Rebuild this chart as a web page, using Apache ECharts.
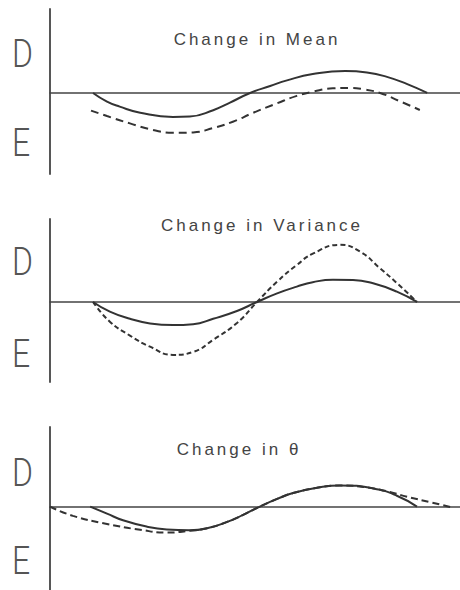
<!DOCTYPE html>
<html>
<head>
<meta charset="utf-8">
<script src="https://cdn.jsdelivr.net/npm/echarts@6/dist/echarts.min.js"></script>
<style>
  html, body { margin: 0; padding: 0; background: #fff; }
  #chart { width: 460px; height: 590px; letter-spacing: 3px; }
</style>
</head>
<body>
<div id="chart"></div>
<script>
// Panel headings and the two side letters
const panelTitles = ['Change in Mean', 'Change in Variance', 'Change in \u03b8'];
const sideLetters = ['D', 'E'];

// Curves as [position, signed effect] pairs; solid = reference, dashed = altered
const meanBase  = [[1.05, 0], [1.39, -0.41], [1.7, -0.65], [2.2, -0.94], [3.0, -1.14], [3.41, -1.12], [3.98, -0.82], [4.39, -0.46], [4.88, 0], [5.37, 0.33], [5.78, 0.6], [6.41, 0.9], [7.2, 1.05], [7.73, 0.98], [8.2, 0.78], [8.7, 0.43], [9.2, 0]];
const meanShift = [[1.0, -0.84], [1.39, -1.1], [1.95, -1.45], [2.51, -1.76], [3.0, -1.9], [3.49, -1.88], [3.98, -1.67], [4.46, -1.37], [4.95, -0.95], [5.54, -0.49], [6.02, -0.14], [6.41, 0.06], [6.9, 0.22], [7.3, 0.24], [7.63, 0.18], [8.05, 0], [8.54, -0.4], [9.02, -0.81]];

const varBase = [[1.05, 0], [1.46, -0.46], [1.95, -0.8], [2.44, -1.02], [3.0, -1.1], [3.49, -1.06], [3.98, -0.8], [4.56, -0.43], [5.05, 0], [5.54, 0.41], [6.02, 0.73], [6.41, 0.94], [6.9, 1.06], [7.39, 1.05], [7.88, 0.89], [8.46, 0.49], [8.95, 0]];
const varWide = [[1.05, 0], [1.46, -0.94], [1.95, -1.6], [2.44, -2.13], [3.0, -2.52], [3.49, -2.38], [3.98, -1.8], [4.56, -1.0], [5.05, 0], [5.54, 0.97], [6.02, 1.76], [6.41, 2.3], [7.07, 2.72], [7.56, 2.4], [8.05, 1.6], [8.46, 0.9], [8.95, 0]];

const thetaBase  = [[0.98, 0], [1.39, -0.35], [1.78, -0.68], [2.37, -1.0], [2.85, -1.14], [3.41, -1.18], [3.83, -1.08], [4.32, -0.76], [4.71, -0.41], [5.12, 0], [5.54, 0.38], [5.93, 0.67], [6.51, 0.93], [7.07, 1.05], [7.88, 0.9], [8.46, 0.54], [8.95, 0]];
const thetaShift = [[0, 0], [0.56, -0.46], [1.39, -0.86], [2.2, -1.15], [2.85, -1.29], [3.41, -1.2], [3.83, -1.08], [4.32, -0.76], [4.71, -0.41], [5.12, 0], [5.54, 0.38], [5.93, 0.67], [6.51, 0.93], [7.07, 1.05], [7.8, 0.93], [8.29, 0.72], [8.71, 0.49], [9.27, 0.22], [9.83, -0.05]];

const panelSeries = [
  { solid: meanBase,  dashed: meanShift,  dash: [8, 5] },
  { solid: varBase,   dashed: varWide,    dash: [5, 3] },
  { solid: thetaBase, dashed: thetaShift, dash: [7, 4] }
];

// Layout of the three stacked panels (pixels) and their value ranges
const panelLayout = [
  { top: 9,   height: 165, yMin: -3.86, yMax: 4.0,  titleX: 257, titleY: 39,  dY: 54,  eY: 143 },
  { top: 219, height: 163, yMin: -3.81, yMax: 3.95, titleX: 262, titleY: 225, dY: 262, eY: 354 },
  { top: 427, height: 170, yMin: -4.14, yMax: 3.95, titleX: 239, titleY: 449, dY: 473, eY: 561 }
];

const ink = '#333';
const axisInk = '#444';
const letterFont = '300 39px Roboto, "Liberation Sans", sans-serif';

const grids = [], xAxes = [], yAxes = [], series = [], graphics = [];

panelLayout.forEach((p, i) => {
  grids.push({ left: 50, width: 410, top: p.top, height: p.height });
  xAxes.push({
    type: 'value', gridIndex: i, min: 0, max: 10,
    axisLine: { show: true, onZero: true, lineStyle: { color: axisInk, width: 1.6 } },
    axisTick: { show: false }, axisLabel: { show: false }, splitLine: { show: false }
  });
  yAxes.push({
    type: 'value', gridIndex: i, min: p.yMin, max: p.yMax,
    axisLine: { show: true, onZero: false, lineStyle: { color: axisInk, width: 1.8 } },
    axisTick: { show: false }, axisLabel: { show: false }, splitLine: { show: false }
  });

  const s = panelSeries[i];
  series.push({
    type: 'line', xAxisIndex: i, yAxisIndex: i, data: s.solid,
    smooth: 0.5, showSymbol: false, silent: true,
    lineStyle: { color: ink, width: 2 }
  });
  series.push({
    type: 'line', xAxisIndex: i, yAxisIndex: i, data: s.dashed,
    smooth: 0.5, showSymbol: false, silent: true,
    lineStyle: { color: ink, width: 2, type: s.dash }
  });

  graphics.push({
    type: 'text', x: p.titleX, y: p.titleY,
    style: {
      text: panelTitles[i], fill: '#444',
      font: '17px "Liberation Sans", Arial, sans-serif',
      align: 'center', verticalAlign: 'middle'
    }
  });
  graphics.push({
    type: 'text', x: 12, y: p.dY, scaleX: 0.82,
    style: {
      text: sideLetters[0], fill: '#555', font: letterFont,
      align: 'left', verticalAlign: 'middle'
    }
  });
  graphics.push({
    type: 'text', x: 12, y: p.eY, scaleX: 0.82,
    style: {
      text: sideLetters[1], fill: '#555', font: letterFont,
      align: 'left', verticalAlign: 'middle'
    }
  });
});

const chart = echarts.init(document.getElementById('chart'), null, { renderer: 'svg' });
chart.setOption({
  animation: false,
  backgroundColor: '#fff',
  grid: grids,
  xAxis: xAxes,
  yAxis: yAxes,
  series: series,
  graphic: graphics
});
</script>
</body>
</html>
